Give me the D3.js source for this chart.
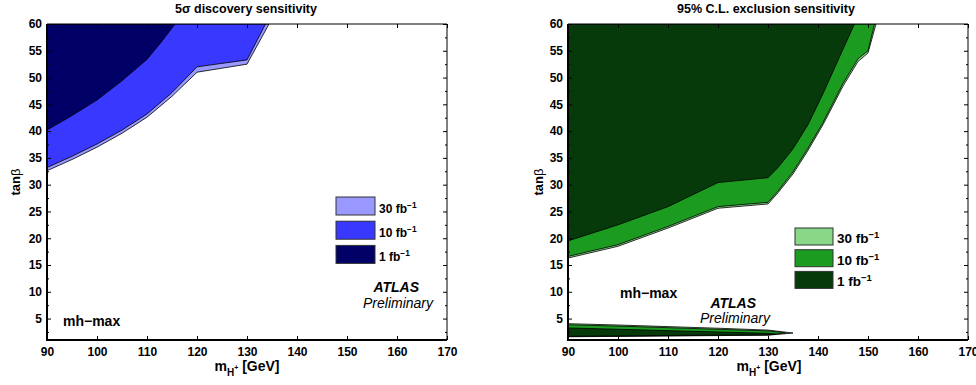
<!DOCTYPE html>
<html>
<head>
<meta charset="utf-8">
<script src="https://cdn.jsdelivr.net/npm/d3@7/dist/d3.min.js"></script>
<style>
  html, body { margin: 0; padding: 0; background: #fff; }
  svg { display: block; font-family: "Liberation Sans", Arial, Helvetica, sans-serif; }
</style>
</head>
<body>
<svg id="chart" width="976" height="385"></svg>
<script>
// Axis ticks
const massTicks = [90, 100, 110, 120, 130, 140, 150, 160, 170];
const tanbTicks = [5, 10, 15, 20, 25, 30, 35, 40, 45, 50, 55, 60];
const tanbMinorTicks = [2.5, 7.5, 12.5, 17.5, 22.5, 27.5, 32.5, 37.5, 42.5, 47.5, 52.5, 57.5];

const lumiLabels = ["30", "10", "1"];

// 5 sigma discovery contours: lower tan(beta) edge of the reach region, [m_H+, tanb]
const discovery30 = [[90, 32.6], [95, 34.7], [100, 37.0], [105, 39.6], [110, 42.6], [115, 46.5], [120, 51.0], [130, 52.5], [134.4, 60]];
const discovery10 = [[90, 33.2], [95, 35.3], [100, 37.6], [105, 40.2], [110, 43.2], [115, 47.2], [120, 52.0], [130, 53.3], [133.7, 60]];
const discovery1  = [[90, 40.2], [95, 42.9], [100, 45.8], [105, 49.4], [110, 53.4], [113, 56.8], [115.6, 60]];

// 95% CL exclusion contours, high tan(beta) region
const exclusion30 = [[90, 16.3], [100, 18.5], [110, 21.9], [120, 25.6], [130, 26.4], [132, 28.5], [135, 32.0], [138, 36.4], [141, 41.2], [145, 48.4], [148, 53.0], [150, 54.6], [151.6, 60]];
const exclusion10 = [[90, 16.6], [100, 18.8], [110, 22.2], [120, 25.9], [130, 26.7], [132, 28.8], [135, 32.4], [138, 36.8], [141, 41.6], [145, 48.9], [148, 53.5], [150, 55.0], [151.3, 60]];
const exclusion1  = [[90, 19.5], [100, 22.5], [110, 25.9], [120, 30.4], [130, 31.3], [132, 33.2], [135, 36.7], [138, 41.2], [141, 47.0], [145, 55.3], [147.3, 60]];

// 95% CL exclusion, low tan(beta) sliver: upper and lower edges
const lowUpper30 = [[90, 4.05], [100, 3.8], [110, 3.5], [120, 3.2], [130, 2.85], [135, 2.3]];
const lowLower30 = [[135, 2.3], [130, 1.9], [90, 1.6]];
const lowUpper10 = [[90, 3.85], [100, 3.6], [110, 3.3], [120, 3.0], [130, 2.7], [133.5, 2.35]];
const lowLower10 = [[133.5, 2.3], [130, 1.95], [90, 1.65]];
const lowUpper1  = [[90, 3.25], [100, 3.0], [110, 2.75], [120, 2.5], [130, 2.25], [131.5, 2.1]];
const lowLower1  = [[131.5, 2.05], [130, 2.0], [90, 1.7]];

const blues  = ["#9999ff", "#3838ff", "#000066"];
const greens = ["#88d888", "#1b9b20", "#063a0b"];

const svg = d3.select("#chart");
const FONT = "\"Liberation Sans\", Arial, Helvetica, sans-serif";

function panel(opts) {
  const x = d3.scaleLinear().domain([90, 170]).range([opts.left, opts.left + 400]);
  const y = d3.scaleLinear().domain([1, 60]).range([340, 24]);
  const g = svg.append("g");
  const clipId = "clip-" + opts.id;
  g.append("clipPath").attr("id", clipId)
    .append("rect").attr("x", x(90)).attr("y", y(60)).attr("width", x(170) - x(90)).attr("height", y(1) - y(60));

  const line = d3.line().x(d => x(d[0])).y(d => y(d[1]));
  const areas = g.append("g").attr("clip-path", `url(#${clipId})`);

  // regions above a contour: contour + closing corner at (90, 60)
  opts.upperRegions.forEach((pts, i) => {
    const poly = pts.concat([[90, 60]]);
    areas.append("path")
      .attr("d", line(poly) + "Z")
      .attr("fill", opts.colors[i])
      .attr("stroke", "#000").attr("stroke-width", 0.8).attr("stroke-linejoin", "round");
  });
  (opts.bands || []).forEach((b, i) => {
    areas.append("path")
      .attr("d", line(b[0].concat(b[1])) + "Z")
      .attr("fill", opts.colors[i])
      .attr("stroke", "#000").attr("stroke-width", 0.8).attr("stroke-linejoin", "round");
  });

  // axes with inward ticks
  const fmt = d3.format("d");
  const bottom = g.append("g").attr("transform", `translate(0,${y(1)})`)
    .call(d3.axisBottom(x).tickValues(massTicks).tickSize(-4).tickSizeOuter(0).tickPadding(7).tickFormat(fmt));
  const top = g.append("g").attr("transform", `translate(0,${y(60)})`)
    .call(d3.axisTop(x).tickValues(massTicks).tickSize(-4).tickSizeOuter(0).tickFormat(""));
  const left = g.append("g").attr("transform", `translate(${x(90)},0)`)
    .call(d3.axisLeft(y).tickValues(tanbTicks).tickSize(-4).tickSizeOuter(0).tickPadding(5).tickFormat(fmt));
  const leftMinor = g.append("g").attr("transform", `translate(${x(90)},0)`)
    .call(d3.axisLeft(y).tickValues(tanbMinorTicks).tickSize(-2).tickSizeOuter(0).tickFormat(""));
  const right = g.append("g").attr("transform", `translate(${x(170)},0)`)
    .call(d3.axisRight(y).tickValues(tanbTicks).tickSize(-4).tickSizeOuter(0).tickFormat(""));
  const rightMinor = g.append("g").attr("transform", `translate(${x(170)},0)`)
    .call(d3.axisRight(y).tickValues(tanbMinorTicks).tickSize(-2).tickSizeOuter(0).tickFormat(""));
  [bottom, top, left, leftMinor, right, rightMinor].forEach(a => {
    a.select(".domain").remove();
    a.selectAll("line").attr("stroke", "#000").attr("stroke-width", 1);
    a.selectAll("text").attr("font-family", FONT).attr("font-size", 12).attr("font-weight", "bold").attr("fill", "#000");
  });

  // frame
  g.append("line").attr("x1", x(90)).attr("x2", x(170)).attr("y1", y(60)).attr("y2", y(60)).attr("stroke", "#000").attr("stroke-width", 1);
  g.append("line").attr("x1", x(170)).attr("x2", x(170)).attr("y1", y(60)).attr("y2", y(1)).attr("stroke", "#000").attr("stroke-width", 1);
  g.append("line").attr("x1", x(90)).attr("x2", x(90)).attr("y1", y(60)).attr("y2", y(1) + 1).attr("stroke", "#000").attr("stroke-width", 2);
  g.append("line").attr("x1", x(90) - 1).attr("x2", x(170)).attr("y1", y(1)).attr("y2", y(1)).attr("stroke", "#000").attr("stroke-width", 2);

  // title
  g.append("text").attr("x", opts.titleX).attr("y", 13).attr("text-anchor", "middle")
    .attr("font-size", 12.5).attr("font-weight", "bold").text(opts.title);

  // x label m_{H+} [GeV]
  const xl = g.append("text").attr("x", opts.xLabelX).attr("y", 371).attr("text-anchor", "middle")
    .attr("font-size", 14).attr("font-weight", "bold");
  xl.append("tspan").text("m");
  xl.append("tspan").attr("dy", 5).attr("font-size", 10).text("H");
  xl.append("tspan").attr("dy", -6).attr("font-size", 7).text("+");
  xl.append("tspan").attr("dy", 1).text(" [GeV]");

  // y label
  const yl = g.append("text").attr("transform", `translate(${opts.yLabelX},182) rotate(-90)`)
    .attr("text-anchor", "middle").attr("font-size", 13).attr("font-weight", "bold");
  yl.append("tspan").text("tan");
  yl.append("tspan").attr("font-weight", "normal").text("β");

  // legend
  const L = opts.legend;
  lumiLabels.forEach((lab, i) => {
    const yy = L.y + i * L.step;
    g.append("rect").attr("x", L.x).attr("y", yy).attr("width", L.w).attr("height", L.h)
      .attr("fill", opts.colors[i]).attr("stroke", "#333").attr("stroke-width", 1);
    const t = g.append("text").attr("x", L.x + L.w + 4).attr("y", yy + L.h - 2)
      .attr("font-size", L.fs).attr("font-weight", "bold");
    t.append("tspan").text(lab + " fb");
    t.append("tspan").attr("dy", -5).attr("font-size", L.fs * 0.7).text("−1");
  });

  // annotations
  g.append("text").attr("x", opts.mh[0]).attr("y", opts.mh[1]).attr("font-size", 14).attr("font-weight", "bold").text("mh−max");
  g.append("text").attr("x", opts.atlas[0]).attr("y", opts.atlas[1]).attr("text-anchor", "end")
    .attr("font-size", 14).attr("font-weight", "bold").attr("font-style", "italic").text("ATLAS");
  g.append("text").attr("x", opts.prelim[0]).attr("y", opts.prelim[1]).attr("text-anchor", "end")
    .attr("font-size", 14).attr("font-style", "italic").text("Preliminary");
}

panel({
  id: "disc", left: 47, colors: blues,
  upperRegions: [discovery30, discovery10, discovery1],
  title: "5σ discovery sensitivity", titleX: 246, xLabelX: 247, yLabelX: 20,
  legend: { x: 336, y: 197, w: 39, h: 18, step: 24.2, fs: 12 },
  mh: [63, 326], atlas: [419, 292], prelim: [433, 308]
});

panel({
  id: "excl", left: 568, colors: greens,
  upperRegions: [exclusion30, exclusion10, exclusion1],
  bands: [[lowUpper30, lowLower30], [lowUpper10, lowLower10], [lowUpper1, lowLower1]],
  title: "95% C.L. exclusion sensitivity", titleX: 766, xLabelX: 769, yLabelX: 543,
  legend: { x: 795, y: 228, w: 38, h: 17, step: 21.7, fs: 13.5 },
  mh: [620, 298], atlas: [756, 308], prelim: [770, 323]
});
</script>
</body>
</html>
